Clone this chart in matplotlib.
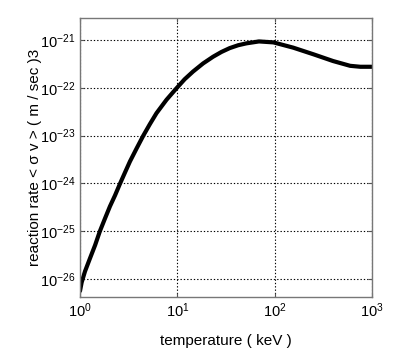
import numpy as np
import matplotlib
matplotlib.use('Agg')
import matplotlib.pyplot as plt
from matplotlib.ticker import NullLocator, LogFormatterMathtext

plt.rcParams['font.family'] = ['Liberation Sans', 'DejaVu Sans']
plt.rcParams['mathtext.fontset'] = 'custom'
plt.rcParams['mathtext.rm'] = 'Liberation Sans'
plt.rcParams['mathtext.it'] = 'Liberation Sans'

# temperature (keV) and log10 of reaction rate (m^3/s)
temp_kev = [1.0, 1.04, 1.125, 1.27, 1.43, 1.60, 1.80, 2.03, 2.29, 2.57, 2.90,
            3.26, 3.81, 4.47, 5.22, 6.11, 7.74, 9.8, 11.9, 14.5, 18.4, 23.3,
            28.4, 34.5, 42.1, 51.3, 69, 97, 155, 251, 398, 596, 759, 1000]
log_rate = [-26.25, -26.07, -25.84, -25.56, -25.29, -25.0, -24.74, -24.48,
            -24.25, -24.01, -23.77, -23.54, -23.27, -23.0, -22.76, -22.53,
            -22.25, -22.01, -21.82, -21.66, -21.49, -21.35, -21.25, -21.17,
            -21.11, -21.07, -21.03, -21.05, -21.16, -21.30, -21.44, -21.54,
            -21.56, -21.56]
rate = [10 ** v for v in log_rate]

x_ticks = [1, 10, 100, 1000]
y_ticks = [1e-26, 1e-25, 1e-24, 1e-23, 1e-22, 1e-21]

fig = plt.figure(figsize=(4, 3.6), dpi=100)
ax = fig.add_axes([0.2, 0.175, 0.73, 0.775])

ax.plot(temp_kev, rate, color='black', lw=3, solid_capstyle='round',
        solid_joinstyle='round')

ax.set_xscale('log')
ax.set_yscale('log')
ax.set_xlim(1, 1000)
ax.set_ylim(10 ** -26.375, 10 ** -20.54)

ax.set_xticks(x_ticks)
ax.set_yticks(y_ticks)
ax.xaxis.set_minor_locator(NullLocator())
ax.yaxis.set_minor_locator(NullLocator())
ax.xaxis.set_major_formatter(LogFormatterMathtext())
ax.yaxis.set_major_formatter(LogFormatterMathtext())

ax.grid(True, which='major', color='black', linestyle=(0, (1.2, 1.8)), lw=0.8)
ax.tick_params(direction='in', length=3, width=0.8, color='#555555',
               labelsize=10.5, top=True, right=True)
for s in ax.spines.values():
    s.set_color('#777777')
    s.set_linewidth(1.0)

ax.set_xlabel('temperature ( keV )', fontsize=11, labelpad=10)
ax.set_ylabel('reaction rate < σ v > ( m / sec )3', fontsize=11, labelpad=-2)

fig.savefig('out.png', dpi=100)
